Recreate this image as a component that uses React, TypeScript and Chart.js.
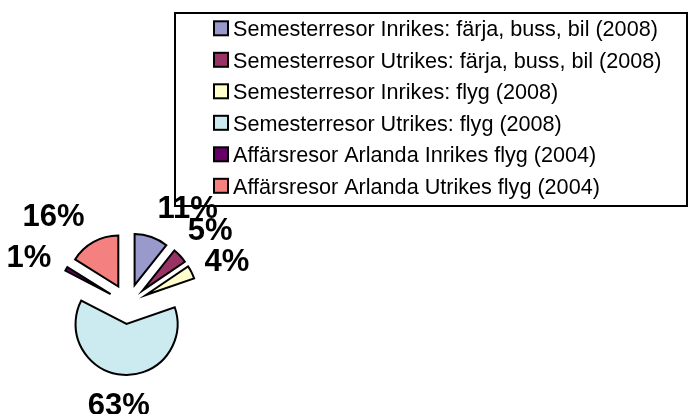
import React, { useEffect, useRef } from "react";
import { Chart, registerables } from "chart.js";

Chart.register(...registerables);

// ---- data ----
const categories: string[] = [
  "Semesterresor Inrikes: färja, buss, bil (2008)",
  "Semesterresor Utrikes: färja, buss, bil (2008)",
  "Semesterresor Inrikes: flyg (2008)",
  "Semesterresor Utrikes: flyg (2008)",
  "Affärsresor Arlanda Inrikes flyg (2004)",
  "Affärsresor Arlanda Utrikes flyg (2004)",
];
const shares: number[] = [10.7, 4.8, 4.2, 62.9, 1.3, 16.1];
const sliceColors: string[] = ["#9999CC", "#993366", "#FFFFCC", "#CCEBF0", "#660066", "#F4817F"];

// ---- styling ----
const EXPLODE = 20;
const FONT = '"Liberation Sans", Arial, Helvetica, sans-serif';

const explodePlugin = {
  id: "explode",
  beforeDatasetDraw(chart: any, args: any) {
    const ctx = chart.ctx;
    args.meta.data.forEach((arc: any) => {
      const mid = (arc.startAngle + arc.endAngle) / 2;
      ctx.save();
      ctx.translate(Math.cos(mid) * EXPLODE, Math.sin(mid) * EXPLODE);
      arc.draw(ctx);
      ctx.restore();
    });
    return false;
  },
};

const legendBox = {
  id: "legendBox",
  afterDraw(chart: any) {
    const ctx = chart.ctx;
    const ds = chart.data.datasets[0];
    ctx.save();
    ctx.lineWidth = 2;
    ctx.strokeStyle = "#000";
    ctx.strokeRect(175, 13, 512, 193);
    ctx.font = `21.6px ${FONT}`;
    ctx.textAlign = "left";
    ctx.textBaseline = "alphabetic";
    (chart.data.labels as string[]).forEach((lab, i) => {
      const cy = 28.3 + i * 31.5;
      ctx.fillStyle = ds.backgroundColor[i];
      ctx.fillRect(214, cy - 7, 14, 14);
      ctx.lineWidth = 2;
      ctx.strokeRect(214, cy - 7, 14, 14);
      ctx.fillStyle = "#000";
      ctx.fillText(lab, 233, cy + 7.7);
    });
    ctx.restore();
  },
};

const pctLabels = {
  id: "pctLabels",
  afterDraw(chart: any, _args: any, opts: any) {
    const ctx = chart.ctx;
    const meta = chart.getDatasetMeta(0);
    const values: number[] = chart.data.datasets[0].data;
    const total = values.reduce((a, b) => a + b, 0);
    const nudge: number[][] = opts.nudge || [];
    ctx.save();
    ctx.font = `bold 31px ${FONT}`;
    ctx.fillStyle = "#000";
    ctx.textAlign = "center";
    ctx.textBaseline = "alphabetic";
    meta.data.forEach((arc: any, i: number) => {
      const mid = (arc.startAngle + arc.endAngle) / 2;
      const dx = Math.cos(mid);
      const dy = Math.sin(mid);
      const text = Math.round((values[i] / total) * 100) + "%";
      const w = ctx.measureText(text).width;
      const h = 22;
      const dist = arc.outerRadius + EXPLODE + 17 + (Math.abs(dx) * w) / 2 + (Math.abs(dy) * h) / 2;
      const n = nudge[i] || [0, 0];
      const cx = arc.x + dx * dist + n[0];
      const cy = arc.y + dy * dist + n[1];
      ctx.fillText(text, cx, cy + h / 2);
    });
    ctx.restore();
  },
};

export default function App() {
  const ref = useRef<HTMLCanvasElement>(null);
  useEffect(() => {
    if (!ref.current) return;
    const chart = new Chart(ref.current, {
      type: "pie",
      data: {
        labels: categories,
        datasets: [
          {
            data: shares,
            backgroundColor: sliceColors,
            borderColor: "#000",
            borderWidth: 2,
            borderJoinStyle: "miter",
          } as any,
        ],
      },
      options: {
        responsive: false,
        animation: false,
        radius: 51,
        layout: { padding: { left: 0, right: 433, top: 250, bottom: 56 } },
        plugins: {
          legend: { display: false },
          tooltip: { enabled: false },
          pctLabels: { nudge: [[24, 5], [0, 1], [-2, 7], [-2, -1], [-1, 8], [-20, 10]] },
        },
      } as any,
      plugins: [explodePlugin, legendBox, pctLabels],
    });
    return () => chart.destroy();
  }, []);
  return (
    <div style={{ position: "fixed", left: 0, top: 0, width: 689, height: 414, background: "#fff" }}>
      <canvas ref={ref} width={689} height={414} style={{ display: "block" }} />
    </div>
  );
}
